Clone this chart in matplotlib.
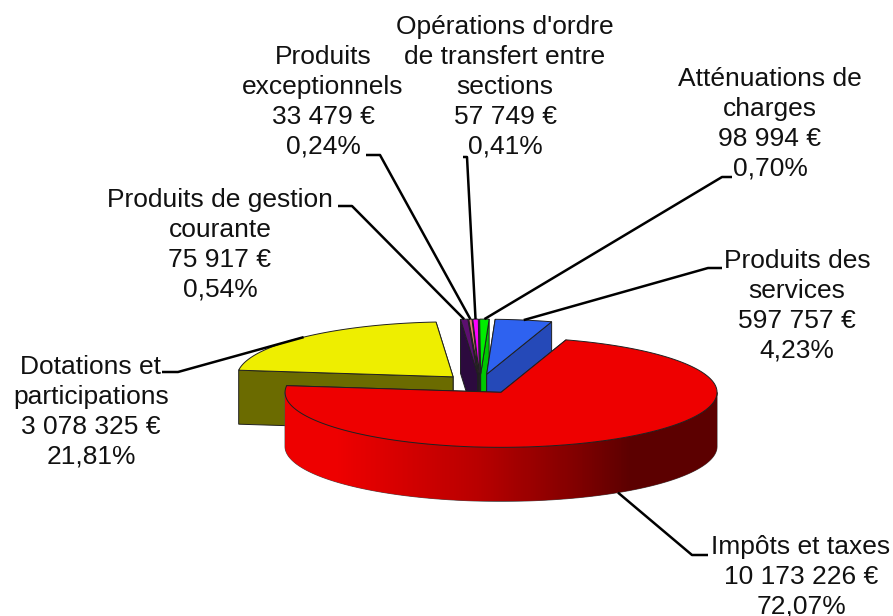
"""
Exploded 3D pie of the budget revenue, drawn on a pixel-sized axes.
"""
import matplotlib.pyplot as plt
import numpy as np
from matplotlib.colors import LinearSegmentedColormap
from matplotlib.patches import Polygon

NAMES = [
    "Impôts et taxes",
    "Dotations et\nparticipations",
    "Produits de gestion\ncourante",
    "Produits\nexceptionnels",
    "Opérations d'ordre\nde transfert entre\nsections",
    "Atténuations de\ncharges",
    "Produits des\nservices",
]
VALUES = [10173226, 3078325, 75917, 33479, 57749, 98994, 597757]
VALUE_LABELS = [
    "10 173 226 €", "3 078 325 €", "75 917 €", "33 479 €",
    "57 749 €", "98 994 €", "597 757 €",
]
PERCENT_LABELS = ["72,07%", "21,81%", "0,54%", "0,24%", "0,41%", "0,70%", "4,23%"]

TOP_COLORS = ["#ee0000", "#eeee00", "#5c0f70", "#e08070", "#ff00ff", "#00ee00", "#2e62f0"]
SIDE_COLORS = ["#6a0000", "#6b6b00", "#2c0a3e", "#803830", "#800080", "#00c800", "#2549b8"]

# layout, in pixels of the 893x616 picture
CENTER = (480.0, 384.0)
RX, RY = 216.0, 55.0
DEPTH = 54.0
EXPLODE = 0.18
START_ANGLE = 72.5
# label centre (x, top y) and the elbow points of each leader line
LABEL_POS = [
    (801, 535), (91, 355), (220, 188), (323, 45), (505, 15), (770, 67), (797, 249),
]
ELBOWS = [
    [(692, 555), (708, 555)],
    [(178, 372), (162, 372)],
    [(352, 206), (338, 206)],
    [(380, 155), (366, 155)],
    [(467, 157), (463, 157)],
    [(722, 177), (732, 177)],
    [(708, 268), (722, 268)],
]

RIM_CMAP = LinearSegmentedColormap.from_list(
    "rim",
    [(0, "#ee0000"), (0.12, "#ee0000"), (0.45, "#b80000"),
     (0.68, "#800000"), (0.8, "#5c0000"), (1, "#5c0000")],
)


def point(apex, angle):
    rad = np.radians(angle)
    return apex[0] + RX * np.cos(rad), apex[1] - RY * np.sin(rad)


def draw_slice(ax, t_start, t_end, top, side, is_rim_gradient, zorder):
    mid = np.radians((t_start + t_end) / 2)
    apex = (
        CENTER[0] + EXPLODE * RX * np.cos(mid),
        CENTER[1] - EXPLODE * RY * np.sin(mid),
    )
    edge = {"edgecolor": "#202020", "linewidth": 0.7, "zorder": zorder}

    # cut faces, the one further back first
    for t in sorted([t_start, t_end], key=lambda a: -np.sin(np.radians(a))):
        p = point(apex, t)
        ax.add_patch(Polygon(
            [apex, p, (p[0], p[1] + DEPTH), (apex[0], apex[1] + DEPTH)],
            facecolor=side, **edge,
        ))

    # outer rim, only the part that faces the viewer
    angles = np.linspace(t_start, t_end, 480)
    angles = angles[np.sin(np.radians(angles)) < 0]
    if len(angles) > 1:
        upper = [point(apex, a) for a in angles]
        lower = [(x, y + DEPTH) for x, y in upper][::-1]
        rim = Polygon(upper + lower, facecolor=side, edgecolor="#505050",
                      linewidth=0.7, zorder=zorder)
        ax.add_patch(rim)
        if is_rim_gradient:
            shade = np.linspace(0, 1, 432).reshape(1, -1)
            ys = [p[1] for p in upper + lower]
            image = ax.imshow(
                shade, cmap=RIM_CMAP, aspect="auto", zorder=zorder,
                extent=(apex[0] - RX, apex[0] + RX, max(ys), min(ys)),
            )
            image.set_clip_path(Polygon(upper + lower, transform=ax.transData))

    # top surface
    arc = [point(apex, a) for a in np.linspace(t_start, t_end, 240)]
    ax.add_patch(Polygon([apex] + arc, facecolor=top, **edge))
    return apex


if __name__ == "__main__":
    plt.rcParams["font.family"] = ["Liberation Sans", "DejaVu Sans"]
    fig = plt.figure(figsize=(8.93, 6.16), dpi=100)
    ax = fig.add_axes([0, 0, 1, 1])

    values = np.array(VALUES, dtype=float)
    sweep = 360 * values / values.sum()
    starts = START_ANGLE - np.concatenate([[0], np.cumsum(sweep)[:-1]])
    ends = starts - sweep
    mids = (starts + ends) / 2

    # paint from back to front
    order = np.argsort(-np.sin(np.radians(mids)))
    for z, i in enumerate(order):
        apex = draw_slice(
            ax, starts[i], ends[i], TOP_COLORS[i], SIDE_COLORS[i],
            i == 0, zorder=2 + z,
        )
        anchor = point(apex, mids[i])
        if np.sin(np.radians(mids[i])) < 0:
            anchor = (anchor[0], anchor[1] + DEPTH)
        xs, ys = zip(*([anchor] + ELBOWS[i]))
        ax.plot(xs, ys, color="black", lw=1.8, zorder=20, solid_capstyle="butt")

    for i, (x, y) in enumerate(LABEL_POS):
        text = f"{NAMES[i]}\n{VALUE_LABELS[i]}\n{PERCENT_LABELS[i]}"
        ax.text(x, y, text, ha="center", va="top", fontsize=19,
                color="#111111", linespacing=1.31, zorder=30)

    ax.set_xlim(0, 893)
    ax.set_ylim(616, 0)
    ax.axis("off")
    plt.savefig("out.png", dpi=100)
